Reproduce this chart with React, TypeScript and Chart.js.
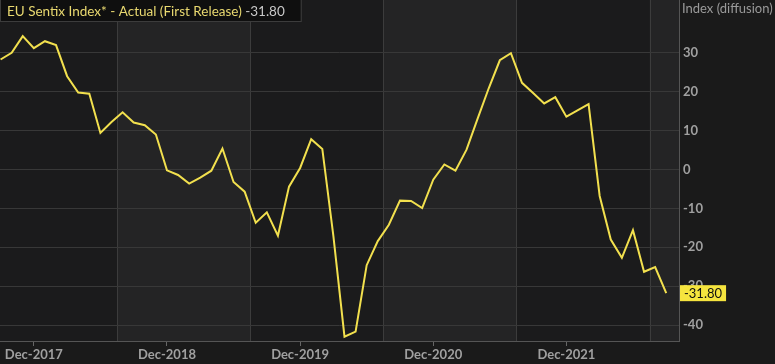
import React, { useEffect, useRef } from "react";
import { Chart, registerables } from "chart.js";

Chart.register(...registerables);

const seriesName = "EU Sentix Index* - Actual (First Release)";
const lastValueText = "-31.80";
const axisTitle = "Index (diffusion)";

const monthNames = ["Jan", "Feb", "Mar", "Apr", "May", "Jun", "Jul", "Aug", "Sep", "Oct", "Nov", "Dec"];

// Monthly values, Sep-2017 .. Sep-2022
const values2017 = [28.3, 30.0, 34.3, 31.2]; // Sep-Dec
const values2018 = [33.0, 32.0, 24.0, 19.8, 19.5, 9.4, 12.2, 14.7, 12.1, 11.4, 9.0, -0.2];
const values2019 = [-1.4, -3.6, -2.1, -0.3, 5.4, -3.2, -5.7, -13.7, -11.0, -17.0, -4.4, 0.4];
const values2020 = [7.8, 5.3, -17.1, -43.0, -41.7, -24.6, -18.4, -14.2, -8.0, -8.1, -9.9, -2.6];
const values2021 = [1.3, -0.3, 5.1, 13.1, 20.9, 28.1, 29.9, 22.3, 19.7, 17.0, 18.6, 13.6];
const values2022 = [15.2, 16.8, -6.8, -18.0, -22.7, -15.6, -26.3, -25.1, -31.8]; // Jan-Sep

const yearBlocks: [number, number, number[]][] = [
  [2017, 8, values2017],
  [2018, 0, values2018],
  [2019, 0, values2019],
  [2020, 0, values2020],
  [2021, 0, values2021],
  [2022, 0, values2022],
];

const categories: string[] = [];
const values: number[] = [];
yearBlocks.forEach(([year, start, vals]) => {
  vals.forEach((v, k) => {
    categories.push(monthNames[start + k] + "-" + year);
    values.push(v);
  });
});

const xTickLabels = ["Dec-2017", "Dec-2018", "Dec-2019", "Dec-2020", "Dec-2021"];
const bandEdgeMonths = ["Jul-2018", "Jul-2019", "Jul-2020", "Jul-2021", "Jul-2022"];
const yTickValues = [-40, -30, -20, -10, 0, 10, 20, 30];

const FONT = "Lato, 'Open Sans', sans-serif";

export default function App() {
  const ref = useRef<HTMLCanvasElement | null>(null);

  useEffect(() => {
    document.body.style.margin = "0";
    document.body.style.background = "#1a1a1a";
    const canvas = ref.current!;
    const xTickPositions = xTickLabels.map((l) => categories.indexOf(l));
    const bandEdges = bandEdgeMonths.map((l) => categories.indexOf(l) + 0.5);

    const decor = {
      id: "decor",
      beforeDraw(chart: any) {
        const { ctx, chartArea } = chart;
        const xs = chart.scales.x;
        ctx.save();
        ctx.fillStyle = "#1a1a1a";
        ctx.fillRect(0, 0, chart.width, chart.height);
        const edges = [chartArea.left, ...bandEdges.map((b) => xs.getPixelForValue(b)), chartArea.right];
        for (let i = 0; i < edges.length - 1; i++) {
          const a = Math.max(edges[i], chartArea.left);
          const b = Math.min(edges[i + 1], chartArea.right);
          if (b <= a) continue;
          ctx.fillStyle = i % 2 === 0 ? "#1b1b1c" : "#242425";
          ctx.fillRect(a, chartArea.top, b - a, chartArea.bottom - chartArea.top);
        }
        ctx.strokeStyle = "#3c3c3c";
        ctx.lineWidth = 1;
        bandEdges.forEach((b) => {
          const px = Math.round(xs.getPixelForValue(b)) + 0.5;
          if (px < chartArea.left || px > chartArea.right) return;
          ctx.beginPath();
          ctx.moveTo(px, chartArea.top);
          ctx.lineTo(px, chartArea.bottom);
          ctx.stroke();
        });
        ctx.restore();
      },
      afterDraw(chart: any) {
        const { ctx, chartArea } = chart;
        const ys = chart.scales.y;
        ctx.save();
        // legend box
        ctx.font = `13.5px ${FONT}`;
        const w1 = ctx.measureText(seriesName + " ").width;
        const w2 = ctx.measureText(lastValueText).width;
        const boxW = 7 + w1 + w2 + 16;
        ctx.fillStyle = "#0f0f0f";
        ctx.fillRect(0, 0, boxW, 22);
        ctx.strokeStyle = "#3c3c3c";
        ctx.lineWidth = 1;
        ctx.strokeRect(0.5, -0.5, boxW, 22);
        ctx.textBaseline = "middle";
        ctx.textAlign = "left";
        ctx.fillStyle = "#e9d970";
        ctx.fillText(seriesName, 7, 12);
        ctx.fillStyle = "#c8c8c8";
        ctx.fillText(lastValueText, 7 + w1, 12);
        // axis title
        ctx.font = `13px ${FONT}`;
        ctx.fillStyle = "#9a9a9a";
        ctx.fillText(axisTitle, chartArea.right + 3, 9);
        // last value label
        const lastY = ys.getPixelForValue(values[values.length - 1]);
        ctx.font = `13px ${FONT}`;
        const tw = ctx.measureText(lastValueText).width;
        ctx.fillStyle = "#f5e43e";
        ctx.fillRect(chartArea.right + 1, lastY - 8, tw + 8, 16);
        ctx.fillStyle = "#111";
        ctx.fillText(lastValueText, chartArea.right + 5, lastY + 0.5);
        ctx.restore();
      },
    };

    const chart = new Chart(canvas, {
      type: "line",
      data: {
        datasets: [
          {
            label: seriesName,
            data: values.map((v, i) => ({ x: i, y: v })),
            borderColor: "#f2e04e",
            borderWidth: 2,
            pointRadius: 0,
            tension: 0,
            fill: false,
          },
        ],
      },
      options: {
        responsive: false,
        animation: false,
        layout: { padding: 0 },
        plugins: { legend: { display: false }, tooltip: { enabled: false } },
        scales: {
          x: {
            type: "linear",
            min: -0.05,
            max: 61.15,
            afterBuildTicks: (s: any) => {
              s.ticks = xTickPositions.map((v) => ({ value: v }));
            },
            afterFit: (s: any) => {
              s.height = 23;
              s.paddingLeft = 0;
              s.paddingRight = 0;
            },
            ticks: {
              autoSkip: false,
              maxRotation: 0,
              color: "#a0a0a0",
              font: { family: FONT, size: 13, weight: "bold" },
              padding: 1,
              callback: (v: any) => categories[v as number] ?? "",
            },
            grid: { drawOnChartArea: false, drawTicks: true, tickLength: 5, tickColor: "#666", color: "#666" },
            border: { display: true, color: "#555" },
          },
          y: {
            position: "right",
            min: -44.1,
            max: 43.6,
            afterBuildTicks: (s: any) => {
              s.ticks = yTickValues.map((v) => ({ value: v }));
            },
            afterFit: (s: any) => {
              s.width = 96;
              s.paddingTop = 0;
              s.paddingBottom = 0;
            },
            ticks: {
              color: "#a0a0a0",
              font: { family: FONT, size: 13, weight: "bold" },
              padding: 4,
            },
            grid: { color: "#383838", drawTicks: false },
            border: { display: true, color: "#555" },
          },
        },
      },
      plugins: [decor],
    });
    return () => chart.destroy();
  }, []);

  return (
    <div style={{ position: "absolute", left: 0, top: 0, width: 775, height: 364 }}>
      <canvas ref={ref} width={775} height={364} />
    </div>
  );
}
